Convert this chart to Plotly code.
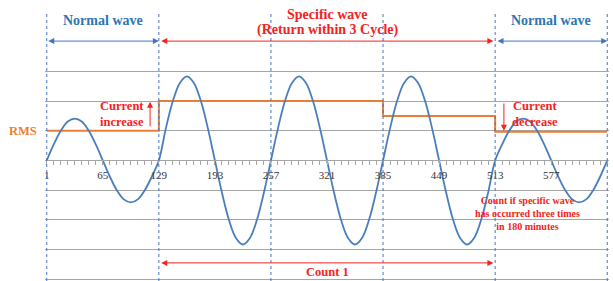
import plotly.graph_objects as go

# ---- data ----
wave_x = list(range(1, 642, 8))
wave_y = [
    0, 0.54, 1.0, 1.31, 1.41, 1.31, 1.0, 0.54, 0, -0.54, -1.0, -1.31, -1.41, -1.31, -1.0, -0.54,
    0, 1.08, 2.0, 2.61, 2.83, 2.61, 2.0, 1.08, 0, -1.08, -2.0, -2.61, -2.83, -2.61, -2.0, -1.08,
    0, 1.08, 2.0, 2.61, 2.83, 2.61, 2.0, 1.08, 0, -1.08, -2.0, -2.61, -2.83, -2.61, -2.0, -1.08,
    0, 1.08, 2.0, 2.61, 2.83, 2.61, 2.0, 1.08, 0, -1.08, -2.0, -2.61, -2.83, -2.61, -2.0, -1.08,
    0, 0.54, 1.0, 1.31, 1.41, 1.31, 1.0, 0.54, 0, -0.54, -1.0, -1.31, -1.41, -1.31, -1.0, -0.54, 0,
]
rms_x = [1, 129, 385, 513, 641]
rms_y = [1.0, 2.0, 1.5, 0.97, 0.97]
tick_vals = [1, 65, 129, 193, 257, 321, 385, 449, 513, 577]
tick_text = [str(v) for v in tick_vals]
boundaries = [1, 129, 257, 385, 513, 641]
grid_vals = [-4, -3, -2, -1, 0, 1, 2, 3]

Y_MIN, Y_MAX = -4.06, 5.0
BLUE_LINE = "#4A7EBB"
DOT_BLUE = "#4472C4"
ORANGE = "#ED7D31"
RED = "#F52222"
TXT_BLUE = "#2E75B6"
FONT = "Liberation Serif"

fig = go.Figure()
fig.add_trace(go.Scatter(x=rms_x, y=rms_y, mode="lines",
                         line=dict(color=ORANGE, width=2, shape="hv"), hoverinfo="skip"))
fig.add_trace(go.Scatter(x=wave_x, y=wave_y, mode="lines",
                         line=dict(color=BLUE_LINE, width=1.8, shape="spline", smoothing=1),
                         hoverinfo="skip"))

for b in boundaries:
    fig.add_shape(type="line", xref="x", yref="y", x0=b, x1=b, y0=Y_MIN, y1=Y_MAX,
                  line=dict(color=DOT_BLUE, width=1, dash="dot"))

ann = []

def arrow(x0, x1, y, color, both=True):
    ann.append(dict(x=x1, y=y, ax=x0, ay=y, xref="x", yref="y", axref="x", ayref="y",
                    text="", showarrow=True, arrowhead=2, startarrowhead=2,
                    arrowside="end+start" if both else "end", arrowsize=1.2,
                    arrowwidth=1, arrowcolor=color, standoff=0, startstandoff=0))

arrow(1, 129, 4.02, DOT_BLUE)
arrow(130, 511, 4.02, RED)
arrow(514, 641, 4.02, DOT_BLUE)
arrow(130, 511, -3.45, RED)

# vertical current arrows
ann.append(dict(x=119, y=1.98, ax=119, ay=1.1, xref="x", yref="y", axref="x", ayref="y",
                text="", showarrow=True, arrowhead=2, arrowsize=1.2, arrowwidth=1,
                arrowcolor=RED, standoff=0))
ann.append(dict(x=523, y=1.0, ax=523, ay=1.97, xref="x", yref="y", axref="x", ayref="y",
                text="", showarrow=True, arrowhead=2, arrowsize=1.2, arrowwidth=1,
                arrowcolor=RED, standoff=0))

def label(x, y, text, color, size, xref="x"):
    ann.append(dict(x=x, y=y, xref=xref, yref="y", text=text, showarrow=False,
                    font=dict(family=FONT, size=size, color=color, weight="bold"),
                    xanchor="center", yanchor="middle"))

label(65, 4.73, "Normal wave", TXT_BLUE, 14)
label(577, 4.73, "Normal wave", TXT_BLUE, 14)
label(321, 4.93, "Specific wave", RED, 14)
label(321, 4.39, "(Return within 3 Cycle)", RED, 14)
label(321, -3.76, "Count 1", RED, 12.5)
label(87, 1.55, "Current<br>increase", RED, 12.5)
label(559, 1.55, "Current<br>decrease", RED, 12.5)
label(550, -1.77, "Count if specific wave<br>has occurred three times<br>in 180 minutes", RED, 10)
ann.append(dict(x=0, y=1.0, xref="paper", yref="y", text="RMS", showarrow=False,
                xanchor="right", yanchor="middle", xshift=-6,
                font=dict(family=FONT, size=12.5, color=ORANGE, weight="bold")))

fig.update_layout(
    width=613, height=281,
    margin=dict(l=45, r=4, t=12, b=0),
    plot_bgcolor="white", paper_bgcolor="white",
    showlegend=False,
    annotations=ann,
    xaxis=dict(
        range=[-1, 643], tickmode="array", tickvals=tick_vals, ticktext=tick_text,
        anchor="free", position=(0 - Y_MIN) / (Y_MAX - Y_MIN),
        showline=True, linecolor="#A6A6A6", linewidth=1,
        ticks="outside", ticklen=4, tickcolor="#A6A6A6",
        minor=dict(tickmode="linear", tick0=1, dtick=8, ticks="outside", ticklen=4,
                   tickcolor="#A6A6A6"),
        showgrid=False, zeroline=False,
        tickfont=dict(family=FONT, size=11, color="#333333"),
    ),
    yaxis=dict(
        range=[Y_MIN, Y_MAX], tickmode="array", tickvals=grid_vals,
        showticklabels=False, showgrid=True, gridcolor="#A6A6A6", gridwidth=1,
        zeroline=False, showline=False, ticks="",
    ),
)

fig.write_html("out.html",
               config={"displayModeBar": False},
               post_script="document.body.style.margin='0';document.body.style.overflow='hidden';")
